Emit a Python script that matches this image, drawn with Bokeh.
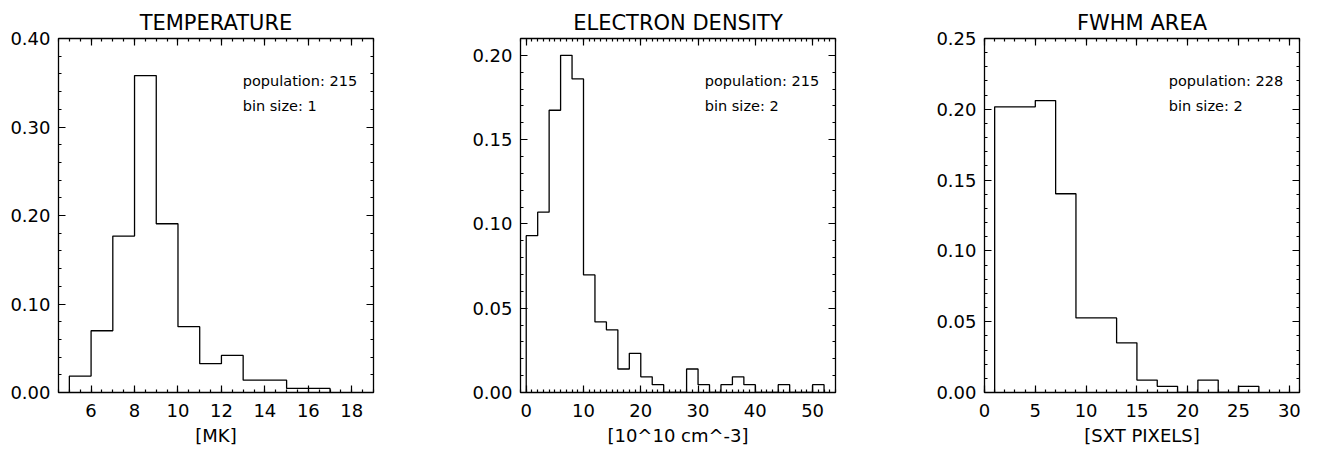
from bokeh.plotting import figure
from bokeh.layouts import row
from bokeh.models import (LinearAxis, SingleIntervalTicker, NumeralTickFormatter, Range1d,
                          Label, CustomLabelingPolicy)
from bokeh.embed import file_html
from bokeh.resources import INLINE

# ---- data ----
temp_bin_left = [5, 6, 7, 8, 9, 10, 11, 12, 13, 14, 15, 16]
temp_counts = [4, 15, 38, 77, 41, 16, 7, 9, 3, 3, 1, 1]
temp_population = 215
temp_bin_size = 1

dens_bin_left = [0, 2, 4, 6, 8, 10, 12, 14, 16, 18, 20, 22, 24, 26, 28, 30, 32,
                 34, 36, 38, 40, 42, 44, 46, 48, 50]
dens_counts = [20, 23, 36, 43, 40, 15, 9, 8, 3, 5, 2, 1, 0, 0, 3, 1, 0,
               1, 2, 1, 0, 0, 1, 0, 0, 1]
dens_population = 215
dens_bin_size = 2

area_bin_left = [1, 3, 5, 7, 9, 11, 13, 15, 17, 19, 21, 23, 25]
area_counts = [46, 46, 47, 32, 12, 12, 8, 2, 1, 0, 2, 0, 1]
area_population = 228
area_bin_size = 2

FONT = "DejaVu Sans"


def step_outline(lefts, counts, pop, bw):
    xs = [lefts[0]]
    ys = [0.0]
    for l, c in zip(lefts, counts):
        h = c / pop
        xs += [l, l + bw]
        ys += [h, h]
    xs.append(lefts[-1] + bw)
    ys.append(0.0)
    return xs, ys


def style_axis(ax, xint, nminor, labels=True, fmt=None):
    ax.ticker = SingleIntervalTicker(interval=xint, num_minor_ticks=nminor)
    ax.axis_line_color = None
    ax.major_tick_in = 7
    ax.major_tick_out = 0
    ax.minor_tick_in = 3
    ax.minor_tick_out = 0
    ax.major_tick_line_color = "black"
    ax.minor_tick_line_color = "black"
    ax.major_tick_line_width = 1.2
    ax.minor_tick_line_width = 1.2
    if labels:
        ax.major_label_text_font = FONT
        ax.major_label_text_font_size = "18px"
        ax.major_label_text_color = "black"
        if fmt:
            ax.formatter = NumeralTickFormatter(format=fmt)
    else:
        ax.major_label_text_font_size = "0px"
        ax.major_label_standoff = 0
        ax.major_label_policy = CustomLabelingPolicy(code="return []")


def panel(title, xlabel, lefts, counts, pop, bw, xr, yr, xint, xminor, yint, yminor,
          width, bl, br):
    p = figure(width=width, height=450, x_range=Range1d(*xr), y_range=Range1d(*yr),
               output_backend="svg", toolbar_location=None,
               min_border_left=bl, min_border_right=br, min_border_top=38,
               min_border_bottom=58, x_axis_location=None, y_axis_location=None)
    p.grid.visible = False
    p.outline_line_color = "black"
    p.outline_line_width = 1.3
    p.background_fill_color = "white"
    p.border_fill_color = "white"

    xb = LinearAxis(axis_label=xlabel)
    style_axis(xb, xint, xminor, True, "0")
    xb.major_label_standoff = 11
    xb.axis_label_standoff = 5
    xb.axis_label_text_font = FONT
    xb.axis_label_text_font_size = "18px"
    xb.axis_label_text_font_style = "normal"
    xb.axis_label_text_color = "black"
    p.add_layout(xb, "below")

    yl = LinearAxis()
    style_axis(yl, yint, yminor, True, "0.00")
    yl.major_label_standoff = 8
    p.add_layout(yl, "left")

    xt = LinearAxis()
    style_axis(xt, xint, xminor, False)
    p.add_layout(xt, "above")

    yr_ax = LinearAxis()
    style_axis(yr_ax, yint, yminor, False)
    p.add_layout(yr_ax, "right")

    xs, ys = step_outline(lefts, counts, pop, bw)
    p.line(xs, ys, line_color="black", line_width=1.3)

    x0, x1 = xr
    y0, y1 = yr
    tx = x0 + 0.585 * (x1 - x0)
    p.add_layout(Label(x=tx, y=y1 - 0.121 * (y1 - y0), text=f"population: {pop}",
                       text_font=FONT, text_font_size="14.5px",
                       text_baseline="alphabetic", text_color="black"))
    p.add_layout(Label(x=tx, y=y1 - 0.192 * (y1 - y0), text=f"bin size: {bw}",
                       text_font=FONT, text_font_size="14.5px",
                       text_baseline="alphabetic", text_color="black"))

    p.title.text = title
    p.title.align = "center"
    p.title.text_font = FONT
    p.title.text_font_size = "21px"
    p.title.text_font_style = "normal"
    p.title.text_color = "black"
    p.title.standoff = 7
    return p


p1 = panel("TEMPERATURE", "[MK]", temp_bin_left, temp_counts, temp_population,
           temp_bin_size, (4.5, 19), (0, 0.40), 2, 4, 0.1, 5, 440, 58, 67)
p2 = panel("ELECTRON DENSITY", "[10^10 cm^-3]", dens_bin_left, dens_counts,
           dens_population, dens_bin_size, (-1, 54), (0, 0.21), 10, 10, 0.05, 5,
           440, 80, 45)
p3 = panel("FWHM AREA", "[SXT PIXELS]", area_bin_left, area_counts, area_population,
           area_bin_size, (0, 31), (0, 0.25), 5, 5, 0.05, 5, 439, 104, 20)

layout = row(p1, p2, p3)
open("out.html", "w").write(file_html(layout, INLINE))
